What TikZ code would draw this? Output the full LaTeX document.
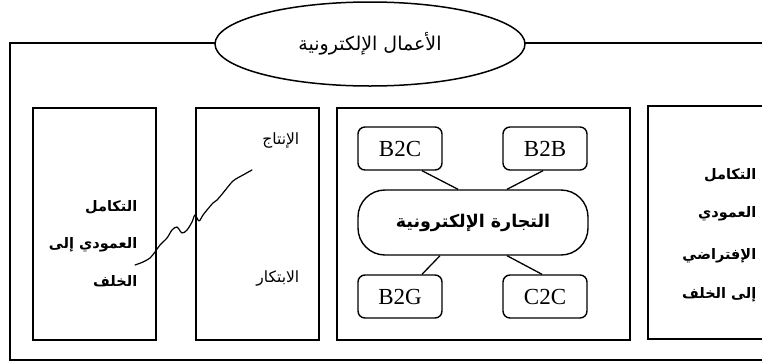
\documentclass[tikz,border=0pt]{standalone}
\usepackage{fontspec}
\setmainfont{Liberation Serif}
\newfontfamily\arabicfont[Script=Arabic]{DejaVu Sans}
\TeXXeTstate=1
\usetikzlibrary{shapes.geometric}

\begin{document}
\begin{tikzpicture}[x=1pt,y=-1pt,line width=1.5pt,
  panel/.style={draw,line width=1.6pt,inner sep=0pt,anchor=north west},
  tag/.style={draw,line width=1.4pt,rounded corners=7pt,minimum width=84pt,minimum height=43pt,
    inner sep=0pt,font=\fontsize{23}{25}\selectfont},
  ar/.style={inner sep=0pt,font=\arabicfont\fontsize{15.5}{17}\selectfont},
  arb/.style={inner sep=0pt,font=\arabicfont\bfseries\fontsize{14.5}{16}\selectfont},
  link/.style={line width=1.3pt}
]
\useasboundingbox (0,0) rectangle (762,362);
\clip (0,0) rectangle (762,362);

% outer frame and the panel cut by the right edge
\draw[line width=1.6pt] (10,43) rectangle (830,360);
\draw[line width=1.6pt] (648,106) rectangle (830,339);

% title ellipse on the frame's top edge
\node[ellipse,draw,fill=white,line width=1.5pt,minimum width=310pt,minimum height=84pt,
  inner sep=0pt,font=\arabicfont\fontsize{19}{21}\selectfont] (title) at (370,44)
  {\beginR الأعمال الإلكترونية\endR};

% panels
\node[panel,minimum width=123pt,minimum height=232pt] (left) at (32,107) {};
\node[panel,minimum width=123pt,minimum height=232pt] (mid) at (195,107) {};
\node[panel,minimum width=293pt,minimum height=232pt] (ecom) at (336,107) {};

% left panel text
\node[arb,anchor=east] (l1) at (138,207) {\beginR التكامل\endR};
\node[arb,anchor=east] (l2) at (138,245) {\beginR العمودي إلى\endR};
\node[arb,anchor=east] (l3) at (138,281) {\beginR الخلف\endR};

% middle panel text
\node[ar,anchor=east] (m1) at (300,140) {\beginR الإنتاج\endR};
\node[ar,anchor=east] (m2) at (300,278) {\beginR الابتكار\endR};

% wavy trace across the two panels
\draw[line width=1.2pt,line join=round,line cap=round]
  plot[smooth,tension=0.5] coordinates {(135,265) (143,262) (150,258) (155,252) (160,245)
  (167,238) (172,230) (177,227) (182,233) (187,230) (192,222) (195,215) (199,221)
  (203,215) (207,210) (213,203) (217,200) (223,193) (233,181) (243,175) (252,170)};

% e-commerce cluster
\node[draw,line width=1.4pt,rounded corners=27pt,minimum width=230pt,minimum height=65pt,
  inner sep=0pt,font=\arabicfont\bfseries\fontsize{17.5}{19}\selectfont] (ec) at (473,222.5)
  {\beginR التجارة الإلكترونية\endR};
\node[tag] (b2c) at (400,148.5) {B2C};
\node[tag] (b2b) at (545,148.5) {B2B};
\node[tag] (b2g) at (400,296.5) {B2G};
\node[tag] (c2c) at (545,296.5) {C2C};
\draw[link] ([xshift=22pt]b2c.south) -- ([xshift=-15pt]ec.north);
\draw[link] ([xshift=-2pt]b2b.south) -- ([xshift=34pt]ec.north);
\draw[link] ([xshift=22pt]b2g.north) -- ([xshift=-33pt]ec.south);
\draw[link] ([xshift=-3pt]c2c.north) -- ([xshift=34pt]ec.south);

% right panel text
\node[arb,anchor=east] (r1) at (757,175) {\beginR التكامل\endR};
\node[arb,anchor=east] (r2) at (757,214) {\beginR العمودي\endR};
\node[arb,anchor=east] (r3) at (757,256) {\beginR الإفتراضي\endR};
\node[arb,anchor=east] (r4) at (757,295) {\beginR إلى الخلف\endR};
\end{tikzpicture}
\end{document}
